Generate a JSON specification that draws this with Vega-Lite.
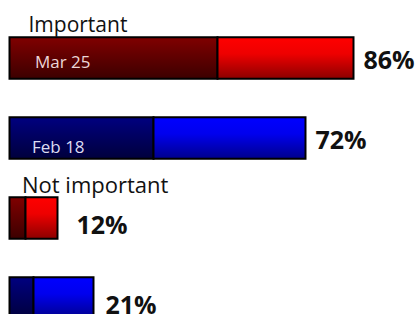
{
  "$schema": "https://vega.github.io/schema/vega-lite/v6.json",
  "width": 410,
  "height": 296,
  "autosize": {"type": "none"},
  "padding": {"left": 9.5, "top": 18, "right": 0, "bottom": 0},
  "background": "white",
  "config": {"view": {"stroke": null}, "font": "Open Sans"},
  "datasets": {
    "segments": [
      {"row": "r1", "group": "Important", "date": "Mar 25", "palette": "red", "seg": "dark", "value": 52},
      {"row": "r1", "group": "Important", "date": "Mar 25", "palette": "red", "seg": "light", "value": 34},
      {"row": "r2", "group": "Important", "date": "Feb 18", "palette": "blue", "seg": "dark", "value": 36},
      {"row": "r2", "group": "Important", "date": "Feb 18", "palette": "blue", "seg": "light", "value": 38},
      {"row": "r3", "group": "Not important", "date": "Mar 25", "palette": "red", "seg": "dark", "value": 4},
      {"row": "r3", "group": "Not important", "date": "Mar 25", "palette": "red", "seg": "light", "value": 8},
      {"row": "r4", "group": "Not important", "date": "Feb 18", "palette": "blue", "seg": "dark", "value": 6},
      {"row": "r4", "group": "Not important", "date": "Feb 18", "palette": "blue", "seg": "light", "value": 15}
    ],
    "totals": [
      {"row": "r1", "group": "Important", "date": "Mar 25", "total": 86, "label": "86%"},
      {"row": "r2", "group": "Important", "date": "Feb 18", "total": 74, "label": "72%"},
      {"row": "r3", "group": "Not important", "date": "Mar 25", "total": 12, "label": "12%"},
      {"row": "r4", "group": "Not important", "date": "Feb 18", "total": 21, "label": "21%"}
    ]
  },
  "encoding": {
    "y": {
      "field": "row",
      "type": "nominal",
      "axis": null,
      "scale": {"domain": ["r1", "r2", "r3", "r4"], "range": [0, 320], "paddingInner": 0.48, "paddingOuter": 0.24}
    }
  },
  "layer": [
    {
      "data": {"name": "segments"},
      "mark": {"type": "bar", "stroke": "black", "strokeWidth": 2},
      "encoding": {
        "x": {"field": "value", "type": "quantitative", "stack": "zero", "axis": null, "scale": {"domain": [0, 100], "range": [0, 400]}},
        "order": {"field": "seg", "sort": "ascending"},
        "fill": {
          "condition": [
            {"test": "datum.palette === 'red' && datum.seg === 'dark'", "value": {"gradient": "linear", "x1": 0, "y1": 0, "x2": 0, "y2": 1, "stops": [{"offset": 0, "color": "#800000"}, {"offset": 1, "color": "#3c0000"}]}},
            {"test": "datum.palette === 'red' && datum.seg === 'light'", "value": {"gradient": "linear", "x1": 0, "y1": 0, "x2": 0, "y2": 1, "stops": [{"offset": 0, "color": "#ff0000"}, {"offset": 0.4, "color": "#ee0000"}, {"offset": 1, "color": "#8c0000"}]}},
            {"test": "datum.palette === 'blue' && datum.seg === 'dark'", "value": {"gradient": "linear", "x1": 0, "y1": 0, "x2": 0, "y2": 1, "stops": [{"offset": 0, "color": "#000080"}, {"offset": 1, "color": "#00003c"}]}}
          ],
          "value": {"gradient": "linear", "x1": 0, "y1": 0, "x2": 0, "y2": 1, "stops": [{"offset": 0, "color": "#0000ff"}, {"offset": 0.4, "color": "#0000ee"}, {"offset": 1, "color": "#00008c"}]}
        }
      }
    },
    {
      "data": {"name": "totals"},
      "transform": [{"filter": "datum.row === 'r1'"}],
      "mark": {"type": "text", "align": "left", "baseline": "alphabetic", "dx": 25.5, "dy": 10, "fontSize": 17, "color": "#ecd6d6"},
      "encoding": {"x": {"datum": 0, "type": "quantitative"}, "text": {"field": "date"}}
    },
    {
      "data": {"name": "totals"},
      "transform": [{"filter": "datum.row === 'r2'"}],
      "mark": {"type": "text", "align": "left", "baseline": "alphabetic", "dx": 22.5, "dy": 15, "fontSize": 17, "color": "#dcdcf2"},
      "encoding": {"x": {"datum": 0, "type": "quantitative"}, "text": {"field": "date"}}
    },
    {
      "data": {"name": "totals"},
      "transform": [{"filter": "datum.row === 'r1'"}],
      "mark": {"type": "text", "align": "left", "baseline": "alphabetic", "dx": 19, "dy": -26.3, "fontSize": 21, "color": "#111111"},
      "encoding": {"x": {"datum": 0, "type": "quantitative"}, "text": {"field": "group"}}
    },
    {
      "data": {"name": "totals"},
      "transform": [{"filter": "datum.row === 'r3'"}],
      "mark": {"type": "text", "align": "left", "baseline": "alphabetic", "dx": 12.5, "dy": -25, "fontSize": 22, "color": "#111111"},
      "encoding": {"x": {"datum": 0, "type": "quantitative"}, "text": {"field": "group"}}
    },
    {
      "data": {"name": "totals"},
      "transform": [{"filter": "datum.group === 'Important'"}],
      "mark": {"type": "text", "align": "left", "baseline": "alphabetic", "dx": 10, "dy": 11, "fontSize": 25, "fontWeight": "bold", "color": "#111111"},
      "encoding": {"x": {"field": "total", "type": "quantitative"}, "text": {"field": "label"}}
    },
    {
      "data": {"name": "totals"},
      "transform": [{"filter": "datum.row === 'r3'"}],
      "mark": {"type": "text", "align": "left", "baseline": "alphabetic", "dx": 19, "dy": 16, "fontSize": 25, "fontWeight": "bold", "color": "#111111"},
      "encoding": {"x": {"field": "total", "type": "quantitative"}, "text": {"field": "label"}}
    },
    {
      "data": {"name": "totals"},
      "transform": [{"filter": "datum.row === 'r4'"}],
      "mark": {"type": "text", "align": "left", "baseline": "alphabetic", "dx": 12, "dy": 16, "fontSize": 25, "fontWeight": "bold", "color": "#111111"},
      "encoding": {"x": {"field": "total", "type": "quantitative"}, "text": {"field": "label"}}
    }
  ]
}
